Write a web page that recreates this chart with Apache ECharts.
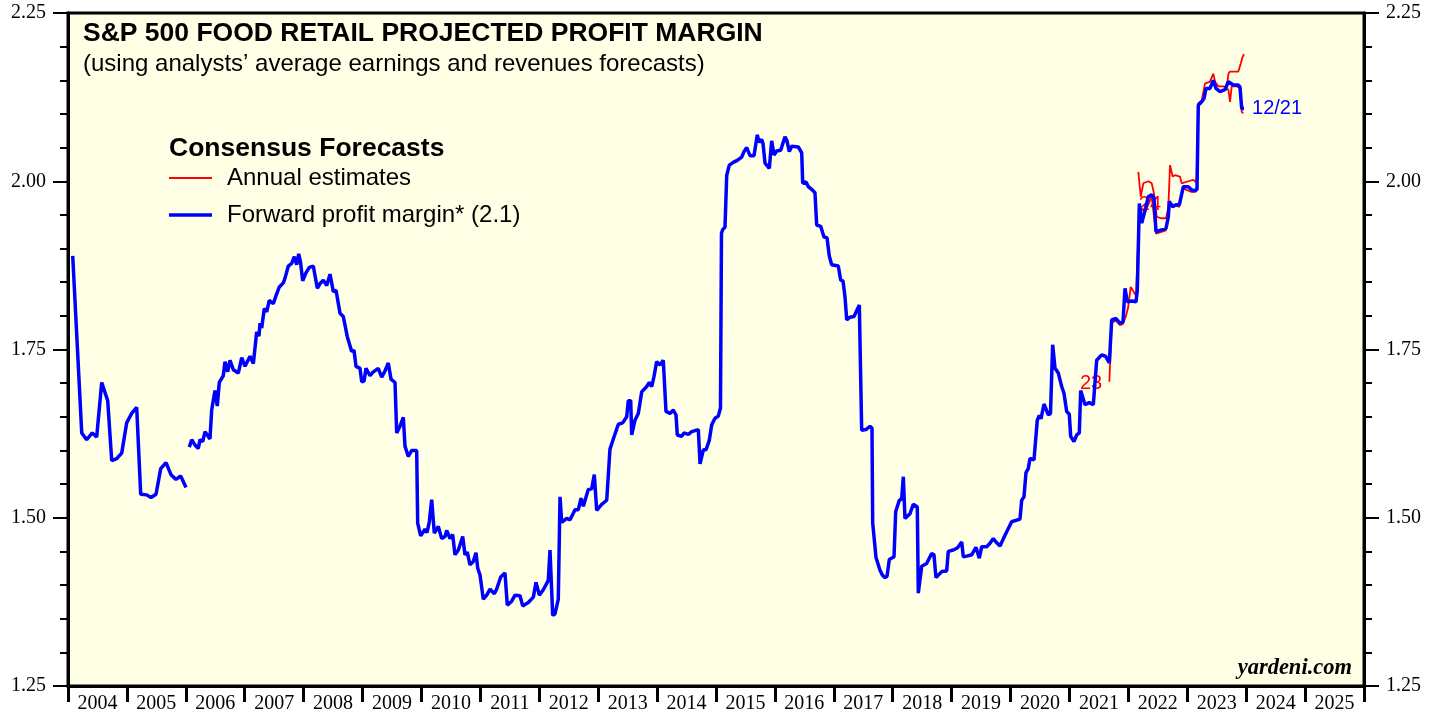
<!DOCTYPE html>
<html>
<head>
<meta charset="utf-8">
<script src="https://cdn.jsdelivr.net/npm/echarts@6/dist/echarts.min.js"></script>
<style>
  html, body { margin: 0; padding: 0; background: #fff; }
  #chart { width: 1439px; height: 717px; }
</style>
</head>
<body>
<div id="chart"></div>
<script>
// year tick labels
const yearLabels = ['2004','2005','2006','2007','2008','2009','2010','2011','2012','2013','2014',
  '2015','2016','2017','2018','2019','2020','2021','2022','2023','2024','2025'];

// forward profit margin (blue); null = gap
const fwdYears = [
  2004.080,2004.233,2004.317,2004.413,2004.487,2004.572,2004.674,2004.742,2004.827,2004.912,
  2004.996,2005.081,2005.166,2005.234,2005.336,2005.409,2005.494,2005.574,2005.664,2005.748,
  2005.833,2005.913,2006.003,2006.030,
  2006.059,2006.100,2006.156,2006.212,2006.241,2006.287,2006.326,2006.410,2006.439,2006.495,
  2006.534,2006.568,2006.636,2006.665,2006.711,2006.750,2006.806,2006.891,2006.949,2007.005,
  2007.090,2007.146,2007.203,2007.242,2007.259,2007.288,2007.332,2007.373,2007.417,2007.485,
  2007.531,2007.587,2007.655,2007.684,2007.740,2007.797,2007.842,2007.882,2007.916,2007.947,
  2007.984,2008.040,2008.096,2008.164,2008.232,2008.278,2008.334,2008.392,2008.448,2008.504,
  2008.550,2008.617,2008.673,2008.741,2008.816,2008.855,2008.889,2008.957,2008.986,2009.025,
  2009.059,2009.127,2009.172,2009.267,2009.325,2009.381,2009.437,2009.483,2009.551,2009.580,
  2009.636,2009.692,2009.721,2009.777,2009.834,2009.919,2009.936,2009.987,2010.060,2010.094,
  2010.133,2010.174,2010.218,2010.286,2010.344,2010.400,2010.428,2010.485,2010.530,2010.569,
  2010.626,2010.700,2010.739,2010.778,2010.824,2010.880,2010.926,2010.955,2010.994,2011.050,
  2011.108,2011.164,2011.237,2011.277,2011.345,2011.418,2011.457,2011.532,2011.588,2011.673,
  2011.719,2011.814,2011.899,2011.945,2012.001,2012.069,2012.153,2012.182,2012.228,2012.267,
  2012.323,2012.352,2012.381,2012.466,2012.522,2012.607,2012.663,2012.709,2012.748,2012.832,
  2012.890,2012.934,2012.975,2013.060,2013.145,2013.200,2013.257,2013.342,2013.416,2013.484,
  2013.511,2013.552,2013.569,2013.625,2013.681,2013.739,2013.824,2013.868,2013.909,2013.948,
  2013.993,2014.049,2014.105,2014.151,2014.219,2014.275,2014.321,2014.343,2014.418,2014.457,
  2014.530,2014.588,2014.700,2014.729,2014.785,2014.831,2014.886,2014.927,2014.983,2015.039,
  2015.076,2015.093,2015.114,2015.153,2015.182,2015.226,2015.293,2015.361,2015.436,2015.475,
  2015.521,2015.577,2015.645,2015.701,2015.730,2015.776,2015.798,2015.832,2015.905,2015.945,
  2015.985,2016.030,2016.098,2016.171,2016.205,2016.244,2016.285,2016.397,2016.455,2016.472,
  2016.528,2016.567,2016.624,2016.680,2016.709,2016.777,2016.833,2016.884,2016.923,2016.964,
  2017.076,2017.117,2017.156,2017.190,2017.219,2017.275,2017.343,2017.433,2017.473,2017.546,
  2017.614,2017.648,2017.660,2017.716,2017.784,2017.823,2017.869,2017.903,2017.942,2018.022,
  2018.050,2018.112,2018.152,2018.180,2018.208,2018.293,2018.349,2018.417,2018.434,2018.492,
  2018.576,2018.661,2018.700,2018.734,2018.831,2018.916,2018.943,2019.028,2019.096,2019.171,
  2019.198,2019.256,2019.340,2019.413,2019.470,2019.510,2019.595,2019.651,2019.707,2019.753,
  2019.821,2019.906,2019.962,2020.019,2020.160,2020.189,2020.228,2020.262,2020.301,2020.330,
  2020.398,2020.454,2020.488,2020.517,2020.568,2020.641,2020.678,2020.715,2020.755,2020.811,
  2020.868,2020.907,2020.953,2020.997,2021.021,2021.077,2021.123,2021.167,2021.191,2021.264,
  2021.337,2021.405,2021.462,2021.547,2021.611,2021.677,2021.717,2021.790,2021.858,2021.909,
  2021.943,2021.982,2022.062,2022.130,2022.152,2022.186,2022.227,2022.283,2022.339,2022.396,
  2022.435,2022.469,2022.537,2022.639,2022.678,2022.695,2022.752,2022.808,2022.865,2022.933,
  2023.017,2023.075,2023.131,2023.165,2023.187,2023.245,2023.284,2023.318,2023.386,2023.442,
  2023.488,2023.556,2023.641,2023.697,2023.726,2023.781,2023.867,2023.895,2023.924,2023.963
];
const fwdValues = [
  1.889,1.626,1.616,1.626,1.620,1.701,1.674,1.585,1.588,1.596,
  1.641,1.655,1.664,1.535,1.534,1.530,1.535,1.573,1.582,1.564,
  1.557,1.562,1.545,null,
  1.605,1.616,1.608,1.603,1.616,1.613,1.628,1.617,1.660,1.689,
  1.666,1.701,1.711,1.732,1.717,1.734,1.720,1.715,1.738,1.725,
  1.740,1.729,1.776,1.770,1.789,1.782,1.811,1.806,1.823,1.818,
  1.830,1.843,1.849,1.856,1.874,1.878,1.888,1.876,1.892,1.880,
  1.852,1.864,1.872,1.874,1.841,1.848,1.853,1.845,1.862,1.836,
  1.838,1.804,1.799,1.769,1.747,1.749,1.725,1.722,1.702,1.703,
  1.722,1.711,1.716,1.722,1.709,1.718,1.730,1.706,1.701,1.626,
  1.636,1.649,1.606,1.591,1.600,1.600,1.492,1.473,1.483,1.478,
  1.494,1.527,1.477,1.487,1.469,1.472,1.481,1.469,1.475,1.445,
  1.452,1.472,1.445,1.449,1.430,1.435,1.448,1.425,1.415,1.379,
  1.385,1.394,1.387,1.394,1.412,1.418,1.370,1.376,1.385,1.384,
  1.369,1.374,1.382,1.404,1.385,1.393,1.407,1.452,1.355,1.357,
  1.379,1.531,1.493,1.499,1.497,1.512,1.512,1.529,1.517,1.542,
  1.543,1.564,1.511,1.520,1.526,1.602,1.617,1.639,1.641,1.650,
  1.674,1.674,1.623,1.645,1.655,1.687,1.695,1.701,1.695,1.710,
  1.732,1.727,1.734,1.658,1.655,1.660,1.653,1.623,1.621,1.626,
  1.624,1.628,1.631,1.580,1.601,1.601,1.615,1.638,1.648,1.651,
  1.663,1.923,1.928,1.932,2.009,2.024,2.028,2.031,2.036,2.044,
  2.050,2.038,2.038,2.069,2.058,2.062,2.056,2.027,2.019,2.060,
  2.039,2.045,2.046,2.066,2.060,2.044,2.052,2.051,2.042,1.997,
  1.999,1.992,1.988,1.983,1.935,1.933,1.917,1.916,1.889,1.876,
  1.874,1.853,1.852,1.828,1.794,1.798,1.799,1.816,1.630,1.631,
  1.636,1.633,1.492,1.441,1.422,1.415,1.411,1.413,1.438,1.442,
  1.509,1.526,1.528,1.561,1.499,1.506,1.520,1.516,1.388,1.428,
  1.432,1.447,1.445,1.411,1.420,1.421,1.450,1.452,1.455,1.464,
  1.442,1.443,1.445,1.456,1.440,1.457,1.457,1.462,1.469,1.464,
  1.458,1.474,1.484,1.494,1.498,1.526,1.531,1.567,1.573,1.588,
  1.586,1.645,1.652,1.647,1.669,1.653,1.655,1.757,1.722,1.715,
  1.695,1.685,1.658,1.654,1.621,1.613,1.623,1.626,1.689,1.668,
  1.671,1.668,1.734,1.742,1.740,1.730,1.794,1.796,1.789,1.791,
  1.841,1.821,1.822,1.821,1.838,1.967,1.938,1.957,1.977,1.980,
  1.975,1.925,1.927,1.930,1.947,1.970,1.962,1.965,1.965,1.992,
  1.992,1.987,1.986,1.988,2.113,2.118,2.123,2.138,2.138,2.150,
  2.138,2.133,2.136,2.148,2.146,2.143,2.143,2.140,2.108,2.108
];

// annual estimates (red)
const est23Years = [2021.677,2021.717,2021.790,2021.858,2021.909,2021.960,2021.995,2022.040,2022.130,
  2022.186,2022.283,2022.396,2022.469,2022.639,2022.695,2022.865,2022.933,2023.075,2023.165];
const est23Values = [1.702,1.790,1.793,1.786,1.788,1.800,1.812,1.843,1.830,
  1.962,1.954,1.977,1.922,1.927,1.967,1.962,1.989,1.984,1.985];

const est24Years = [2022.169,2022.210,2022.254,2022.339,2022.396,2022.435,2022.481,2022.566,2022.639,
  2022.678,2022.707,2022.752,2022.791,2022.876,2022.905,2023.017,2023.102,2023.156,2023.187,
  2023.245,2023.301,2023.386,2023.442,2023.471,2023.527,2023.612,2023.697,2023.726,2023.754,
  2023.839,2023.895,2023.924,2023.951];
const est24Values = [2.014,1.977,1.997,2.000,1.997,1.982,1.947,1.945,1.945,
  1.960,2.024,2.007,2.009,2.007,1.997,2.000,2.002,1.998,2.116,
  2.120,2.145,2.148,2.160,2.148,2.141,2.141,2.136,2.118,2.141,
  2.141,2.138,2.103,2.101];

const est25Years = [2023.680,2023.700,2023.726,2023.867,2023.908,2023.940,2023.963];
const est25Values = [2.146,2.160,2.163,2.163,2.175,2.185,2.189];

const zip = (xs, ys) => xs.map((x, i) => [x, ys[i] === null ? '-' : ys[i]]);

const chart = echarts.init(document.getElementById('chart'));

const serif = '"Liberation Serif", "Times New Roman", serif';
const sans = '"Liberation Sans", Arial, sans-serif';
const red = '#FF0000';
const blue = '#0000FF';

const yAxisBase = {
  type: 'value',
  min: 1.25,
  max: 2.25,
  interval: 0.25,
  axisLine: { show: true, lineStyle: { color: '#000', width: 3 } },
  axisTick: { show: true, inside: false, length: 15, lineStyle: { color: '#000', width: 2 } },
  minorTick: { show: true, splitNumber: 5, length: 8, lineStyle: { color: '#000', width: 2 } },
  splitLine: { show: false },
  axisLabel: {
    margin: 22,
    color: '#000',
    fontFamily: serif,
    fontSize: 20,
    formatter: (v) => v.toFixed(2)
  }
};

const redLine = { color: red, width: 1.8 };

// small invisible anchor that carries a year label (23, 24)
const yearTag = (x, y, txt) => ({
  symbol: 'circle',
  symbolSize: 1,
  itemStyle: { color: 'rgba(0,0,0,0)' },
  label: { show: true, position: 'inside', color: red, fontFamily: sans, fontSize: 20 },
  data: [{ coord: [x, y], label: { formatter: txt } }]
});

const options = {
  backgroundColor: '#fff',
  animation: false,
  title: [
    {
      text: 'S&P 500 FOOD RETAIL PROJECTED PROFIT MARGIN',
      subtext: '(using analysts’ average earnings and revenues forecasts)',
      left: 83,
      top: 20,
      padding: 0,
      itemGap: 5,
      textStyle: { fontFamily: sans, fontWeight: 'bold', fontSize: 26.5, color: '#000' },
      subtextStyle: { fontFamily: sans, fontSize: 24, color: '#000' }
    },
    {
      text: 'Consensus Forecasts',
      left: 169,
      top: 135,
      padding: 0,
      textStyle: { fontFamily: sans, fontWeight: 'bold', fontSize: 26.5, color: '#000' }
    },
    {
      text: 'yardeni.com',
      right: 87,
      top: 657,
      padding: 0,
      textStyle: { fontFamily: serif, fontWeight: 'bold', fontStyle: 'italic', fontSize: 22.5, color: '#000' }
    }
  ],
  legend: {
    orient: 'vertical',
    left: 169,
    top: 166,
    padding: 0,
    itemWidth: 43,
    itemHeight: 24,
    itemGap: 13,
    data: [
      { name: 'Annual estimates', icon: 'path://M0,0H43V1.8H0Z' },
      { name: 'Forward profit margin* (2.1)', icon: 'path://M0,0H43V3.5H0Z' }
    ],
    textStyle: { fontFamily: sans, fontSize: 24, color: '#000', padding: [0, 0, 0, 10] },
    selectedMode: false
  },
  grid: {
    left: 68,
    right: 75,
    top: 13,
    bottom: 31,
    show: true,
    backgroundColor: '#FFFFE6',
    borderColor: '#000',
    borderWidth: 3
  },
  xAxis: [
    {
      type: 'value',
      min: 2004,
      max: 2026,
      show: false
    },
    {
      type: 'category',
      data: yearLabels,
      boundaryGap: true,
      position: 'bottom',
      axisLine: { show: true, lineStyle: { color: '#000', width: 3 } },
      axisTick: { show: true, interval: 0, length: 16, lineStyle: { color: '#000', width: 3 } },
      axisLabel: { interval: 0, margin: 8, color: '#000', fontFamily: serif, fontSize: 20 },
      splitLine: { show: false }
    }
  ],
  yAxis: [
    Object.assign({}, yAxisBase, { position: 'left' }),
    Object.assign({}, yAxisBase, { position: 'right' })
  ],
  series: [
    {
      name: 'Annual estimates',
      type: 'line',
      xAxisIndex: 0,
      symbol: 'none',
      lineStyle: redLine,
      itemStyle: { color: red },
      data: zip(est23Years, est23Values),
      markPoint: yearTag(2021.366, 1.700, '23')
    },
    {
      name: 'Annual estimates',
      type: 'line',
      xAxisIndex: 0,
      symbol: 'none',
      lineStyle: redLine,
      itemStyle: { color: red },
      data: zip(est24Years, est24Values),
      markPoint: yearTag(2022.367, 1.965, '24')
    },
    {
      name: 'Annual estimates',
      type: 'line',
      xAxisIndex: 0,
      symbol: 'none',
      lineStyle: redLine,
      itemStyle: { color: red },
      data: zip(est25Years, est25Values)
    },
    {
      name: 'Forward profit margin* (2.1)',
      type: 'line',
      xAxisIndex: 0,
      symbol: 'none',
      connectNulls: false,
      z: 5,
      lineStyle: { color: blue, width: 3.5 },
      itemStyle: { color: blue },
      data: zip(fwdYears, fwdValues),
      endLabel: {
        show: true,
        formatter: '12/21',
        color: blue,
        fontFamily: sans,
        fontSize: 20,
        distance: 8
      }
    }
  ]
};

chart.setOption(options);
</script>
</body>
</html>
